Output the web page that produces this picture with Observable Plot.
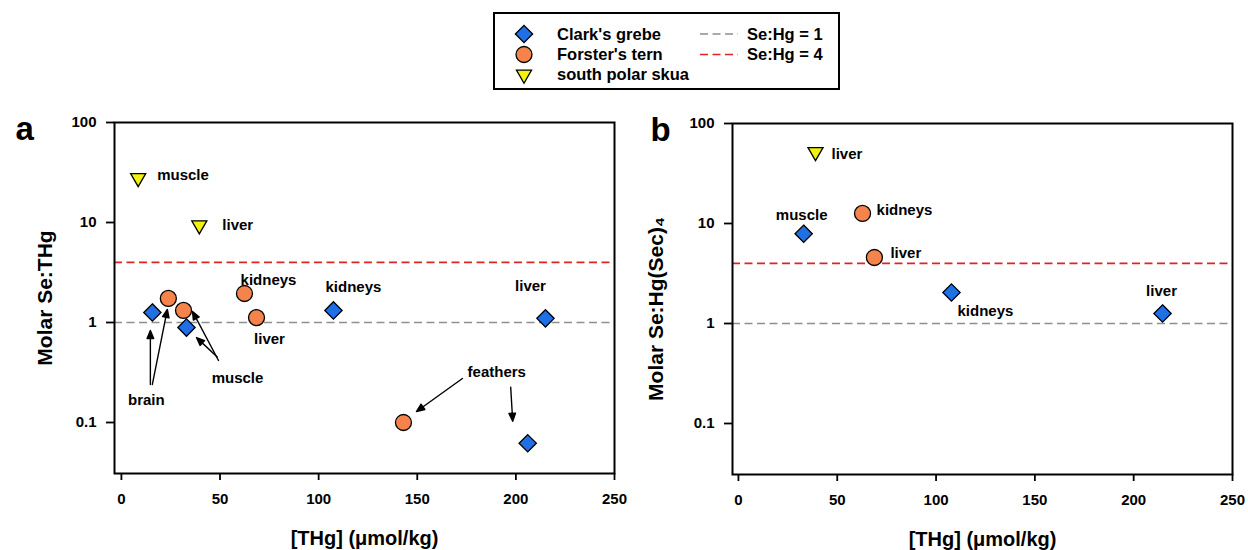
<!DOCTYPE html>
<html><head><meta charset="utf-8">
<script src="https://cdn.jsdelivr.net/npm/d3@7"></script>
<script src="https://cdn.jsdelivr.net/npm/@observablehq/plot@0.6"></script>
<style>
body{margin:0;background:#fff;font-family:"Liberation Sans",Arial,sans-serif;}
#wrap{position:relative;width:1248px;height:550px;overflow:hidden;background:#fff;}
#legend{position:absolute;left:493px;top:12px;width:343px;height:74px;border:2px solid #000;}
#pa{position:absolute;left:0;top:95px;}
#pb{position:absolute;left:624px;top:95px;}
svg{overflow:visible}
</style></head><body>
<div id="wrap"><div id="legend"></div><div id="pa"></div><div id="pb"></div></div>
<script>
// ---------- data ----------
const species = ["Clark's grebe", "Forster's tern", "south polar skua"];
const thresholdValues = [1, 4];
const thresholdLabels = ["Se:Hg = 1", "Se:Hg = 4"];
const xTicks = [0, 50, 100, 150, 200, 250];
const yTicks = [0.1, 1, 10, 100];

// panel a : Molar Se:THg
const grebeTissuesA = ["brain", "muscle", "kidneys", "liver", "feathers"];
const grebeThgA = [15.7, 33, 107.5, 215, 206];
const grebeRatioA = [1.26, 0.89, 1.32, 1.1, 0.062];
const ternTissuesA = ["brain", "muscle", "kidneys", "liver", "feathers"];
const ternThgA = [23.8, 31.5, 62.4, 68.5, 143];
const ternRatioA = [1.74, 1.32, 1.95, 1.12, 0.1];
const skuaTissuesA = ["muscle", "liver"];
const skuaThgA = [8.5, 39.5];
const skuaRatioA = [27.9, 9.4];

// panel b : Molar Se:Hg(Sec)4
const grebeTissuesB = ["muscle", "kidneys", "liver"];
const grebeThgB = [33, 107.8, 214.6];
const grebeRatioB = [7.9, 2.04, 1.26];
const ternTissuesB = ["kidneys", "liver"];
const ternThgB = [62.8, 68.8];
const ternRatioB = [12.6, 4.57];
const skuaTissuesB = ["liver"];
const skuaThgB = [39];
const skuaRatioB = [51.9];

// ---------- styles ----------
const FONT = "'Liberation Sans', Arial, sans-serif";
const symStyle = [
  {symbol: "diamond2", fill: "#1f6fe5", r: 7.8, rotate: 0},
  {symbol: "circle", fill: "#f5844c", r: 8, rotate: 0},
  {symbol: "triangle", fill: "#f2f20c", r: 5.6, rotate: 180}
];
const lineStyle = [
  {stroke: "#8f8f8f"},
  {stroke: "#dc2626"}
];

function rows(sp, tissues, thg, ratio) {
  return tissues.map((t, i) => ({species: sp, tissue: t, thg: thg[i], ratio: ratio[i]}));
}
const find = (rs, t) => rs.find(d => d.tissue === t);

const arrowShape = {
  draw(ctx, l) {
    const h = 8, w = 3.3;
    ctx.moveTo(0, 0);
    ctx.lineTo(0, -l + h * 0.7);
    ctx.moveTo(0, -l);
    ctx.lineTo(-w, -l + h);
    ctx.lineTo(w, -l + h);
    ctx.closePath();
  }
};

function lab(row, dx, dy, anchor = "middle") {
  return Plot.text([row], {x: "thg", y: "ratio", text: "tissue", dx, dy,
    textAnchor: anchor, lineAnchor: "middle", fontSize: 15, fontWeight: "bold", fill: "#000"});
}
function arrow(row, dx, dy, length, rotate) {
  return Plot.vector([row], {x: "thg", y: "ratio", dx, dy, length, rotate, anchor: "end",
    shape: arrowShape, fill: "#000", stroke: "#000", strokeWidth: 1.4});
}
function dots(rs, k) {
  const s = symStyle[k];
  return Plot.dot(rs, {x: "thg", y: "ratio", symbol: () => s.symbol, r: s.r, rotate: s.rotate,
    fill: s.fill, stroke: "#000", strokeWidth: 1.3});
}

function panel(o) {
  return Plot.plot({
    width: 624, height: 455,
    marginTop: o.mt, marginBottom: o.mb, marginLeft: o.ml, marginRight: o.mr,
    x: {domain: o.xdomain},
    y: {type: "log", domain: [0.0309, 100]},
    symbol: {type: "identity"},
    style: {fontFamily: FONT, fontWeight: "bold", fontSize: "15px", color: "#000", background: "transparent", overflow: "visible"},
    marks: [
      ...thresholdValues.map((v, i) => Plot.ruleY([v], {stroke: lineStyle[i].stroke, strokeWidth: 1.7, strokeDasharray: "8,4.5"})),
      Plot.frame({stroke: "#000", strokeWidth: 2}),
      Plot.axisX({ticks: xTicks, tickSize: 7, tickPadding: 13, strokeWidth: 1.8, label: null, fontSize: 15, fontWeight: "bold"}),
      Plot.axisY({ticks: yTicks, tickSize: 8, tickPadding: 10, strokeWidth: 1.8, tickFormat: d => String(d), label: null, fontSize: 15, fontWeight: "bold"}),
      ...o.arrows,
      dots(o.grebe, 0),
      dots(o.tern, 1),
      dots(o.skua, 2),
      ...o.labels,
      Plot.text([o.letter], {frameAnchor: "top-left", textAnchor: "start", lineAnchor: "bottom", dx: o.letterDx, dy: 17, fontSize: 33, fontWeight: "bold"}),
      Plot.text([o.ylabel], {frameAnchor: "left", textAnchor: "middle", rotate: -90, lineAnchor: "middle", dx: o.ylabelDx, dy: o.ylabelDy, fontSize: 21, fontWeight: "bold"}),
      Plot.text(["[THg] (\u03bcmol/kg)"], {frameAnchor: "bottom", textAnchor: "middle", lineAnchor: "middle", dy: 65, fontSize: 20, fontWeight: "bold"})
    ]
  });
}

// ---------- panel a ----------
const gA = rows(species[0], grebeTissuesA, grebeThgA, grebeRatioA);
const tA = rows(species[1], ternTissuesA, ternThgA, ternRatioA);
const sA = rows(species[2], skuaTissuesA, skuaThgA, skuaRatioA);

const plotA = panel({
  mt: 27, mb: 77, ml: 114, mr: 10, xdomain: [-3.5, 250],
  grebe: gA, tern: tA, skua: sA,
  letter: "a", letterDx: -99, ylabel: "Molar Se:THg", ylabelDx: -69, ylabelDy: 0,
  arrows: [
    arrow(find(gA, "brain"), -2, 18, 54, 0),
    arrow(find(tA, "brain"), -1, 11, 76.5, 11.3),
    arrow(find(tA, "muscle"), 9, 1, 55.5, -27.9),
    arrow(find(gA, "muscle"), 10, 10, 28.4, -46.9),
    arrow(find(tA, "feathers"), 13, -11, 56.6, -125.7),
    arrow(find(gA, "feathers"), -15, -22, 34, 176.6)
  ],
  labels: [
    lab(find(sA, "muscle"), 19, -2.5, "start"),
    lab(find(sA, "liver"), 23, 0, "start"),
    lab(find(tA, "kidneys"), 24, -13),
    lab(find(tA, "liver"), 13, 22),
    lab(find(gA, "kidneys"), 20, -23),
    lab(find(gA, "liver"), -15, -32),
    lab(find(gA, "brain"), -6, 88),
    lab(find(gA, "muscle"), 51, 51),
    lab(find(gA, "feathers"), -31, -71)
  ]
});
document.getElementById("pa").appendChild(plotA);

// ---------- panel b ----------
const gB = rows(species[0], grebeTissuesB, grebeThgB, grebeRatioB);
const tB = rows(species[1], ternTissuesB, ternThgB, ternRatioB);
const sB = rows(species[2], skuaTissuesB, skuaThgB, skuaRatioB);

const plotB = panel({
  mt: 28, mb: 76, ml: 108, mr: 16, xdomain: [-3, 250],
  grebe: gB, tern: tB, skua: sB,
  letter: "b", letterDx: -82, ylabel: "Molar Se:Hg(Sec)\u2084", ylabelDx: -76, ylabelDy: 10,
  arrows: [],
  labels: [
    lab(find(sB, "liver"), 16, 2, "start"),
    lab(find(gB, "muscle"), -2, -19),
    lab(find(tB, "kidneys"), 14, -3, "start"),
    lab(find(tB, "liver"), 16, -4, "start"),
    lab(find(gB, "kidneys"), 6, 19, "start"),
    lab(find(gB, "liver"), -1, -22)
  ]
});
document.getElementById("pb").appendChild(plotB);

// ---------- legend ----------
const lg = d3.select("#legend").append("svg").attr("width", 343).attr("height", 74)
  .style("font-family", FONT).style("font-weight", "bold").style("font-size", "16.5px");
const symMap = {diamond2: d3.symbolDiamond2, circle: d3.symbolCircle, triangle: d3.symbolTriangle};
const rowY = [20, 40.5, 60.5];
species.forEach((name, i) => {
  const s = symStyle[i];
  lg.append("path")
    .attr("d", d3.symbol(symMap[s.symbol], Math.PI * s.r * s.r)())
    .attr("transform", `translate(29,${rowY[i]}) rotate(${s.rotate})`)
    .attr("fill", s.fill).attr("stroke", "#000").attr("stroke-width", 1.3);
  lg.append("text").attr("x", 62).attr("y", rowY[i]).attr("dy", "0.35em").text(name);
});
thresholdLabels.forEach((name, i) => {
  lg.append("line").attr("x1", 205).attr("x2", 243).attr("y1", rowY[i]).attr("y2", rowY[i])
    .attr("stroke", lineStyle[i].stroke).attr("stroke-width", 1.6).attr("stroke-dasharray", "8,4.5");
  lg.append("text").attr("x", 252).attr("y", rowY[i]).attr("dy", "0.35em").text(name);
});
</script>
</body></html>
